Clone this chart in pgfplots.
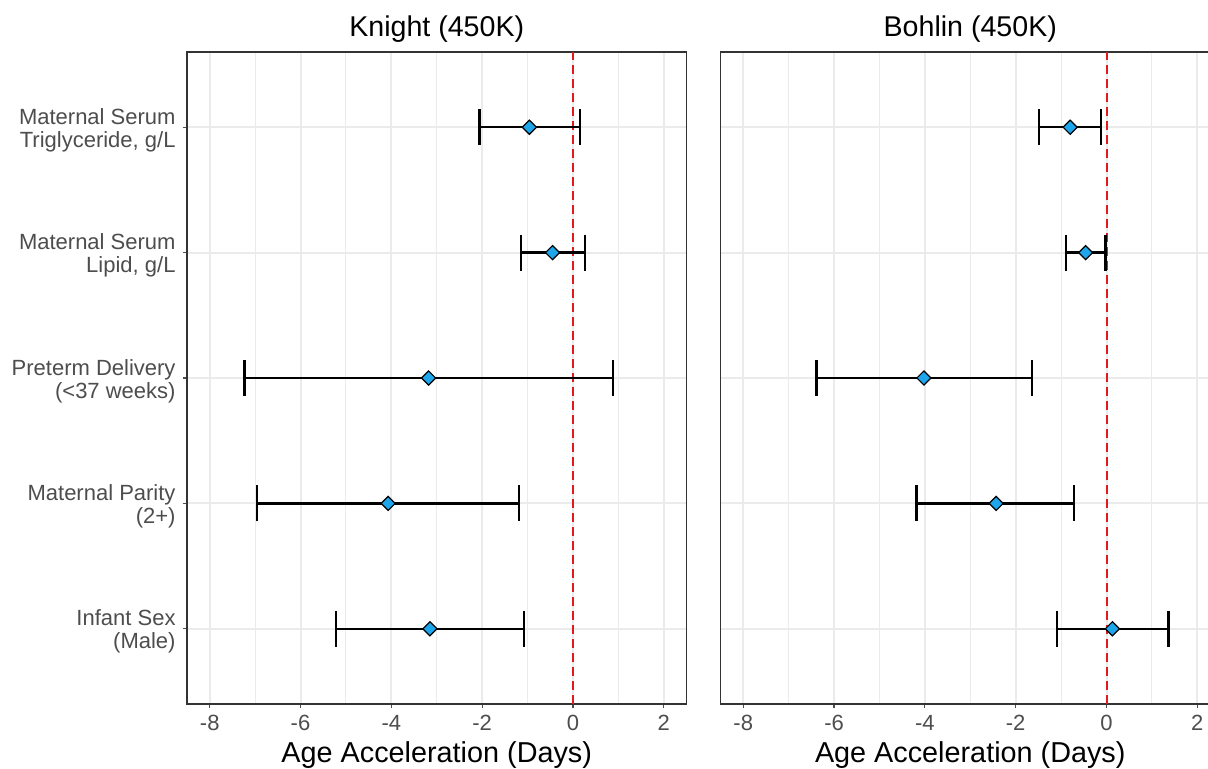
\documentclass[border=0pt]{standalone}
\usepackage{fontspec}
\setmainfont{Liberation Sans}
\usepackage{pgfplots}
\usepackage{pgfplotstable}
\pgfplotsset{compat=1.18}
\definecolor{gridc}{HTML}{EBEBEB}
\definecolor{tickc}{HTML}{4D4D4D}
\definecolor{ptfill}{HTML}{1DA6EC}
\definecolor{zline}{HTML}{E31A1C}

% est = point estimate, lo/hi = CI ends (days)
\pgfplotstableread{
y est lo hi
5 -0.96 -2.06 0.15
4 -0.45 -1.14 0.26
3 -3.18 -7.23 0.88
2 -4.07 -6.96 -1.19
1 -3.15 -5.22 -1.08
}\knight
\pgfplotstableread{
y est lo hi
5 -0.80 -1.49 -0.12
4 -0.46 -0.89 -0.02
3 -4.02 -6.39 -1.64
2 -2.43 -4.18 -0.72
1 0.13 -1.09 1.36
}\bohlin

\pgfplotsset{forest/.style={
  scale only axis, width=249.75pt, height=326pt,
  xmin=-8.5, xmax=2.5, ymin=0.4, ymax=5.6,
  xtick={-8,-6,...,2}, minor xtick={-7,-5,...,1}, ytick={1,...,5},
  xmajorgrids, xminorgrids, ymajorgrids,
  major grid style={gridc, line width=1pt},
  minor grid style={gridc, line width=0.5pt},
  axis line style={draw=black!80, line width=0.6pt},
  tick style={tickc, line width=0.6pt},
  tick pos=left,
  tick align=outside, major tick length=2.2pt, minor tick length=0pt,
  ticklabel style={font=\fontsize{11}{12}\selectfont, text=tickc},
  /pgf/number format/assume math mode=true,
  xlabel={Age Acceleration (Days)},
  xlabel style={font=\fontsize{14.4}{16}\selectfont, at={(0.5,0)}, anchor=center, yshift=-25.5pt},
  title style={font=\fontsize{14.3}{16}\selectfont, at={(0.5,1)}, anchor=center, yshift=5.5pt},
}}
\pgfplotsset{ests/.style={only marks, mark=square*, mark size=2.5pt,
  mark options={rotate=45, fill=ptfill, draw=black, line width=0.6pt},
  error bars/.cd, x dir=both, x explicit,
  error bar style={black, line width=1.25pt},
  error mark options={black, line width=1.25pt, mark size=9pt, rotate=90}}}

\begin{document}
\begin{tikzpicture}
\begin{axis}[forest, title={Knight (450K)},
  yticklabels={{Infant Sex\\(Male)}, {Maternal Parity\\(2+)}, {Preterm Delivery\\(<37 weeks)}, {Maternal Serum\\Lipid, g/L}, {Maternal Serum\\Triglyceride, g/L}},
  yticklabel style={align=right, font=\fontsize{11}{11.5}\selectfont, yshift=-1.5pt}]
\addplot[zline, line width=1pt, dash pattern=on 4.5pt off 2.5pt] coordinates {(0,0.4) (0,5.6)};
\addplot[ests] table[x=est, y=y, x error plus expr=\thisrow{hi}-\thisrow{est}, x error minus expr=\thisrow{est}-\thisrow{lo}] {\knight};
\end{axis}
\begin{axis}[forest, at={(266.75pt,0pt)}, title={Bohlin (450K)},
  yticklabels={}, ytick style={draw=none}]
\addplot[zline, line width=1pt, dash pattern=on 4.5pt off 2.5pt] coordinates {(0,0.4) (0,5.6)};
\addplot[ests] table[x=est, y=y, x error plus expr=\thisrow{hi}-\thisrow{est}, x error minus expr=\thisrow{est}-\thisrow{lo}] {\bohlin};
\end{axis}
\pgfresetboundingbox
\useasboundingbox (-93.5pt,-32pt) rectangle (510.5pt,352pt);
\end{tikzpicture}
\end{document}
